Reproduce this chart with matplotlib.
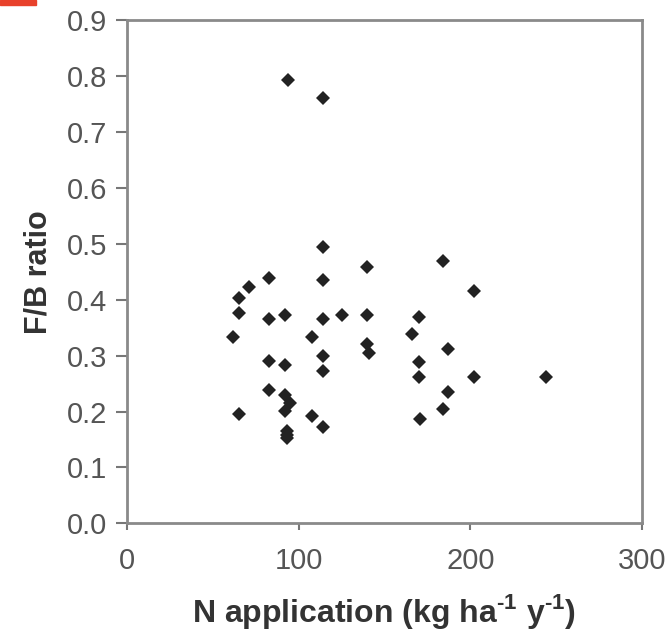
import matplotlib
matplotlib.use('Agg')
import matplotlib.pyplot as plt
from matplotlib.patches import Rectangle

# N application (kg ha-1 y-1) vs F/B ratio
n_app = [94, 114, 114, 140, 83, 114, 71, 65, 65, 83, 92, 114, 125, 140,
         62, 108, 140, 141, 114, 114, 83, 92, 83, 92, 95, 92, 65, 108,
         114, 93, 93, 93,
         184, 202, 170, 166, 187, 170, 170, 202, 244, 187, 184, 171]
fb_ratio = [0.793, 0.760, 0.494, 0.459, 0.439, 0.436, 0.422, 0.403, 0.376, 0.366,
            0.372, 0.366, 0.372, 0.372, 0.334, 0.333, 0.320, 0.305, 0.300, 0.273,
            0.291, 0.283, 0.238, 0.229, 0.216, 0.201, 0.196, 0.192, 0.173, 0.166,
            0.158, 0.152,
            0.470, 0.416, 0.369, 0.339, 0.312, 0.288, 0.261, 0.261, 0.261, 0.234,
            0.204, 0.186]

xticks = [0, 100, 200, 300]
yticks = [0.0, 0.1, 0.2, 0.3, 0.4, 0.5, 0.6, 0.7, 0.8, 0.9]

plt.rcParams['font.family'] = ['Liberation Sans', 'DejaVu Sans']
plt.rcParams['mathtext.fontset'] = 'custom'
plt.rcParams['mathtext.rm'] = 'Liberation Sans:bold'

fig = plt.figure(figsize=(6.68, 6.32), dpi=100)
ax = fig.add_axes([0.190, 0.172, 0.771, 0.796])

ax.plot(n_app, fb_ratio, linestyle='none', marker='D', markersize=7.5,
        color='#222222', markeredgewidth=0)

ax.set_xlim(0, 300)
ax.set_ylim(0, 0.9)
ax.set_xticks(xticks)
ax.set_xticklabels([str(v) for v in xticks])
ax.set_yticks(yticks)
ax.set_yticklabels(['%.1f' % v for v in yticks])

for s in ax.spines.values():
    s.set_color('#8a8a8a')
    s.set_linewidth(2)
ax.tick_params(direction='out', length=8, width=1.5, color='#777777',
               labelsize=21, labelcolor='#555555', pad=6)
ax.tick_params(axis='x', length=5, pad=12)

ax.set_xlabel('N application (kg ha$^{\\text{-1}}$ y$^{\\text{-1}}$)', fontsize=23,
              fontweight='bold', color='#333333', labelpad=12)
ax.set_ylabel('F/B ratio', fontsize=22, fontweight='bold', color='#333333',
              labelpad=10)

# red mark in the top-left corner of the original
fig.patches.append(Rectangle((0, 1 - 5 / 632), 36 / 668, 5 / 632,
                             transform=fig.transFigure, color='#e8412b'))

fig.savefig('out.png', dpi=100)
